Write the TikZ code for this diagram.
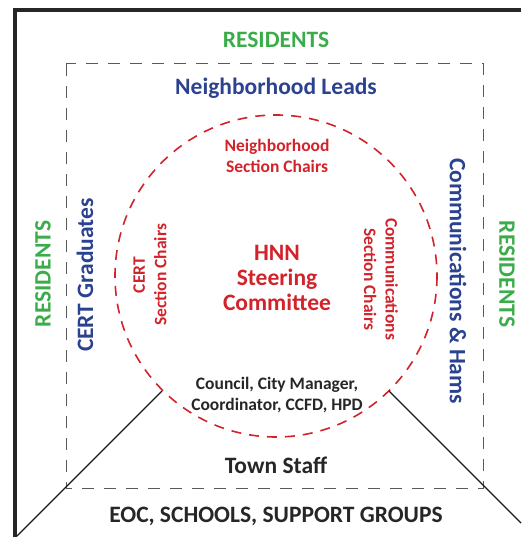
\documentclass[tikz,border=0pt]{standalone}
\usepackage{fontspec}
\setmainfont{Carlito}
\usepackage{tikz}
\usetikzlibrary{calc}
\definecolor{resgreen}{RGB}{59,172,74}
\definecolor{leadblue}{RGB}{43,66,145}
\definecolor{chairred}{RGB}{210,35,43}
\tikzset{
	every node/.style={
		font=\bfseries,
		inner sep=0pt
	},
	big/.style={
		font=\fontsize{23.5}{25}\selectfont\bfseries,
		align=center
	},
	small/.style={
		font=\fontsize{17.5}{21.5}\selectfont\bfseries,
		align=center
	},
	residents/.style={big, text=resgreen},
	lead/.style={big, text=leadblue},
	chairs/.style={small, text=chairred},
	staff/.style={text=black!85},
	zone/.style={draw=black!65, line width=1pt, dash pattern=on 12pt off 10pt},
	core/.style={draw=chairred, line width=1.6pt, dash pattern=on 10pt off 8pt},
	frame/.style={draw=black!85, line width=4pt},
	wedge/.style={draw=black!90, line width=1.4pt}
}

\begin{document}
\begin{tikzpicture}[x=1pt,y=-1pt]
	\useasboundingbox (0,0) rectangle (521,537);
	% outer frame
	\draw[frame] (15,537) -- (15,10) -- (521,10);
	% town staff zone
	\draw[zone] (66,64) rectangle (483,488);
	% steering circle
	\draw[core] (276,276) circle (161);
	
	\coordinate (wl-in) at (162,391);
	\coordinate (wl-out) at (17,536);
	\coordinate (wr-in) at (389,391);
	\coordinate (wr-out) at (521,523);
	\draw[wedge] (wl-in) -- (wl-out);
	\draw[wedge] (wr-in) -- (wr-out);
	
	\node[residents] (res-top) at (276,40) {RESIDENTS};
	\node[residents, rotate=90] (res-left) at (43,274) {RESIDENTS};
	\node[residents, rotate=-90] (res-right) at (507,274) {RESIDENTS};
	
	\node[lead] (leads) at (276,88) {Neighborhood Leads};
	\node[lead, rotate=90] (cert) at (85,275) {CERT Graduates};
	\node[lead, rotate=-90] (comms) at (458,281) {Communications \& Hams};
	
	\node[chairs] (nb-chairs) at (277,156) {Neighborhood\\Section Chairs};
	\node[chairs, rotate=90] (cert-chairs) at (150,275) {CERT\\Section Chairs};
	\node[chairs, rotate=-90] (comms-chairs) at (381,279) {Communications\\Section Chairs};
	
	\node[big, text=chairred] (hnn) at (277,278) {HNN\\Steering\\Committee};
	
	\node[small, staff] (council) at (277,395) {Council, City Manager,\\Coordinator, CCFD, HPD};
	\node[big, staff] (town) at (276,465) {Town Staff};
	\node[big, staff] (eoc) at (276,516) {EOC, SCHOOLS, SUPPORT GROUPS};
\end{tikzpicture}
\end{document}
